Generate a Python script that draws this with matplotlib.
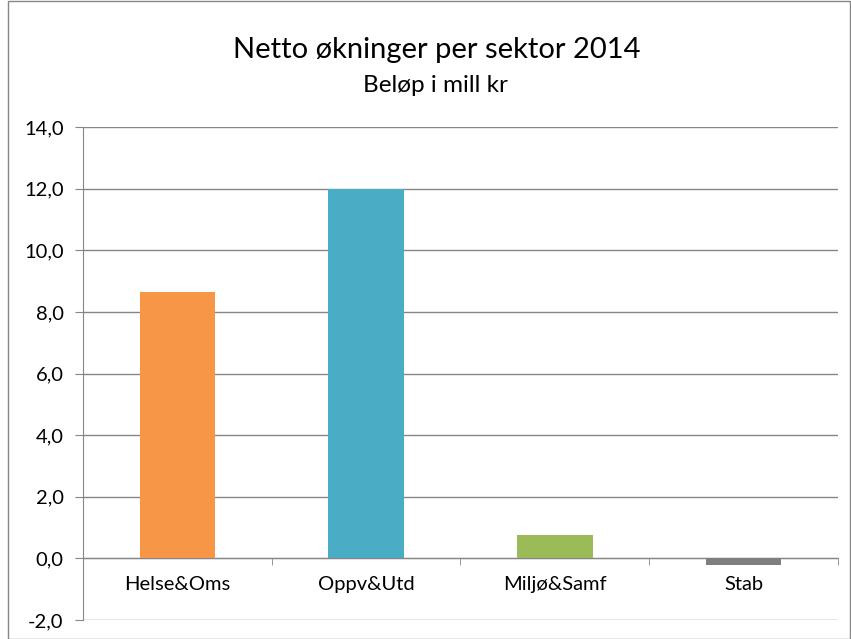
import matplotlib.pyplot as plt
from matplotlib.patches import Rectangle
from matplotlib.ticker import FuncFormatter
import numpy as np

sektorer = ['Helse&Oms', 'Oppv&Utd', 'Miljø&Samf', 'Stab']
belop = [8.65, 12.0, 0.75, -0.22]
farger = ['#F79646', '#4BACC6', '#9BBB59', '#7F7F7F']
y_ticks = [-2, 0, 2, 4, 6, 8, 10, 12, 14]

plt.rcParams['font.family'] = ['Lato', 'DejaVu Sans']
grid_col = '#868686'

fig = plt.figure(figsize=(8.51, 6.39), dpi=100)
ax = fig.add_axes([83/851, 1-620/639, (838-83)/851, (620-127)/639])

x = np.arange(len(sektorer))
ax.bar(x, belop, width=0.40, color=farger, zorder=3)

ax.set_xlim(-0.5, len(sektorer) - 0.5)
ax.set_ylim(-2, 14)
ax.set_yticks(y_ticks)
ax.yaxis.set_major_formatter(FuncFormatter(lambda v, p: f'{v:.1f}'.replace('.', ',')))
ax.grid(axis='y', color=grid_col, linewidth=1, zorder=0)
ax.tick_params(axis='y', length=6, color=grid_col, labelsize=14.5, pad=8)

# kategoriaksen ligger på null
ax.spines['bottom'].set_position(('data', 0))
ax.spines['bottom'].set_color(grid_col)
ax.spines['left'].set_color(grid_col)
ax.spines['top'].set_visible(False)
ax.spines['right'].set_visible(False)
ax.set_xticks(x)
ax.set_xticklabels(sektorer)
ax.set_xticks(np.arange(-0.5, len(sektorer)), minor=True)
ax.tick_params(axis='x', which='major', length=0, labelsize=14.5, pad=13)
ax.tick_params(axis='x', which='minor', length=5, color=grid_col)

fig.text(437/851, 1-50/639, 'Netto økninger per sektor 2014', ha='center', va='center', fontsize=21)
fig.text(435/851, 1-85/639, 'Beløp i mill kr', ha='center', va='center', fontsize=17.5)

fig.patches.append(Rectangle((8/851, 0), 1-9/851, 1-1/639, transform=fig.transFigure,
                             fill=False, edgecolor=grid_col, linewidth=1))

fig.savefig('out.png', dpi=100)
